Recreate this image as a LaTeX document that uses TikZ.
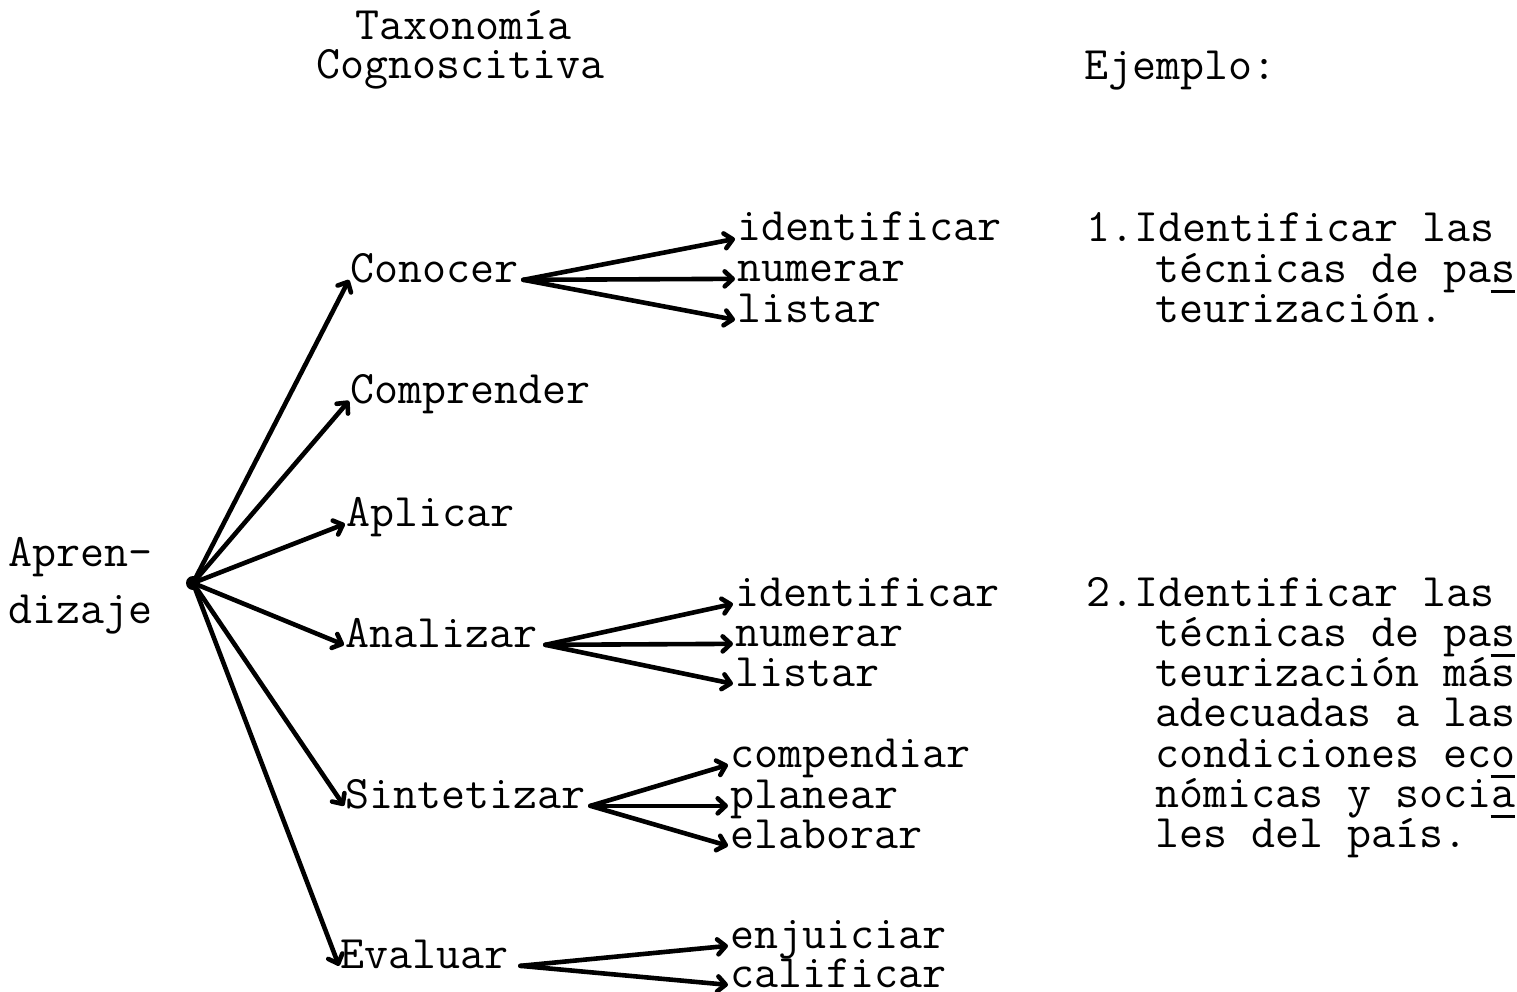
\documentclass[tikz,border=0pt]{standalone}
\usepackage{fontspec}
\usetikzlibrary{arrows.meta}
% continuation mark under the last letter of a split word
\newcommand\contmark[1]{#1\llap{\rule[-11pt]{24.5pt}{2.6pt}}}
\begin{document}
\begin{tikzpicture}[x=1pt,y=-1pt,
  word/.style={inner sep=0pt, anchor=base west,
    font=\fontsize{46.6}{40}\ttfamily\addfontfeatures{FakeBold=3}\selectfont},
  link/.style={line width=4.6pt, line cap=round,
    -{Straight Barb[length=8pt,width=15pt,line cap=round,line join=round]}},
]
\useasboundingbox (0,0) rectangle (1517,992);

% headings
\node[word] (tax) at (355,40) {Taxonomía};
\node[word] (cog) at (316,79) {Cognoscitiva};
\node[word] (ej)  at (1084,80) {Ejemplo:};

% root
\node[word] (apA) at (8,566) {Apren-};
\node[word] (apB) at (8,623) {dizaje};
\node[circle, fill, inner sep=0pt, minimum size=14pt] (hub) at (193,583) {};

% levels
\node[word] (con) at (350,282) {Conocer};
\node[word] (com) at (350,403) {Comprender};
\node[word] (apl) at (346,526) {Aplicar};
\node[word] (ana) at (345,647) {Analizar};
\node[word] (sin) at (345,808) {Sintetizar};
\node[word] (eva) at (340,968) {Evaluar};

% verbs
\node[word] (c1) at (737,241) {identificar};
\node[word] (c2) at (737,281) {numerar};
\node[word] (c3) at (737,322) {listar};
\node[word] (a1) at (735,606) {identificar};
\node[word] (a2) at (735,646) {numerar};
\node[word] (a3) at (735,686) {listar};
\node[word] (s1) at (730,767) {compendiar};
\node[word] (s2) at (730,808) {planear};
\node[word] (s3) at (730,848) {elaborar};
\node[word] (e1) at (730,948) {enjuiciar};
\node[word] (e2) at (730,987) {calificar};

% examples
\node[word] (x1a) at (1086,242) {1.Identificar las};
\node[word] (x1b) at (1155,282) {técnicas de pa\contmark{s}};
\node[word] (x1c) at (1155,322) {teurización.};
\node[word] (x2a) at (1086,606) {2.Identificar las};
\node[word] (x2b) at (1155,646) {técnicas de pa\contmark{s}};
\node[word] (x2c) at (1155,686) {teurización más};
\node[word] (x2d) at (1155,726) {adecuadas a las};
\node[word] (x2e) at (1155,767) {condiciones ec\contmark{o}};
\node[word] (x2f) at (1155,807) {nómicas y soci\contmark{a}};
\node[word] (x2g) at (1155,847) {les del país.};

% root to levels
\draw[link] (hub) -- ([xshift=-1pt]con.mid west);
\draw[link] (hub) -- ([xshift=-1pt]com.mid west);
\draw[link] (hub) -- ([xshift=-1pt]apl.mid west);
\draw[link] (hub) -- ([xshift=-1pt]ana.mid west);
\draw[link] (hub) -- ([xshift=-1pt]sin.mid west);
\draw[link] (hub) -- ([xshift=-1pt]eva.mid west);

% levels to verbs
\draw[link] ([xshift=5pt]con.mid east) -- ([xshift=-2pt]c1.mid west);
\draw[link] ([xshift=5pt]con.mid east) -- ([xshift=-2pt]c2.mid west);
\draw[link] ([xshift=5pt]con.mid east) -- ([xshift=-2pt]c3.mid west);
\draw[link] ([xshift=8pt]ana.mid east) -- ([xshift=-2pt]a1.mid west);
\draw[link] ([xshift=8pt]ana.mid east) -- ([xshift=-2pt]a2.mid west);
\draw[link] ([xshift=8pt]ana.mid east) -- ([xshift=-2pt]a3.mid west);
\draw[link] ([xshift=5pt]sin.mid east) -- ([xshift=-2pt]s1.mid west);
\draw[link] ([xshift=5pt]sin.mid east) -- ([xshift=-2pt]s2.mid west);
\draw[link] ([xshift=5pt]sin.mid east) -- ([xshift=-2pt]s3.mid west);
\draw[link] ([xshift=12pt]eva.mid east) -- ([xshift=-2pt]e1.mid west);
\draw[link] ([xshift=12pt]eva.mid east) -- ([xshift=-2pt]e2.mid west);
\end{tikzpicture}
\end{document}
